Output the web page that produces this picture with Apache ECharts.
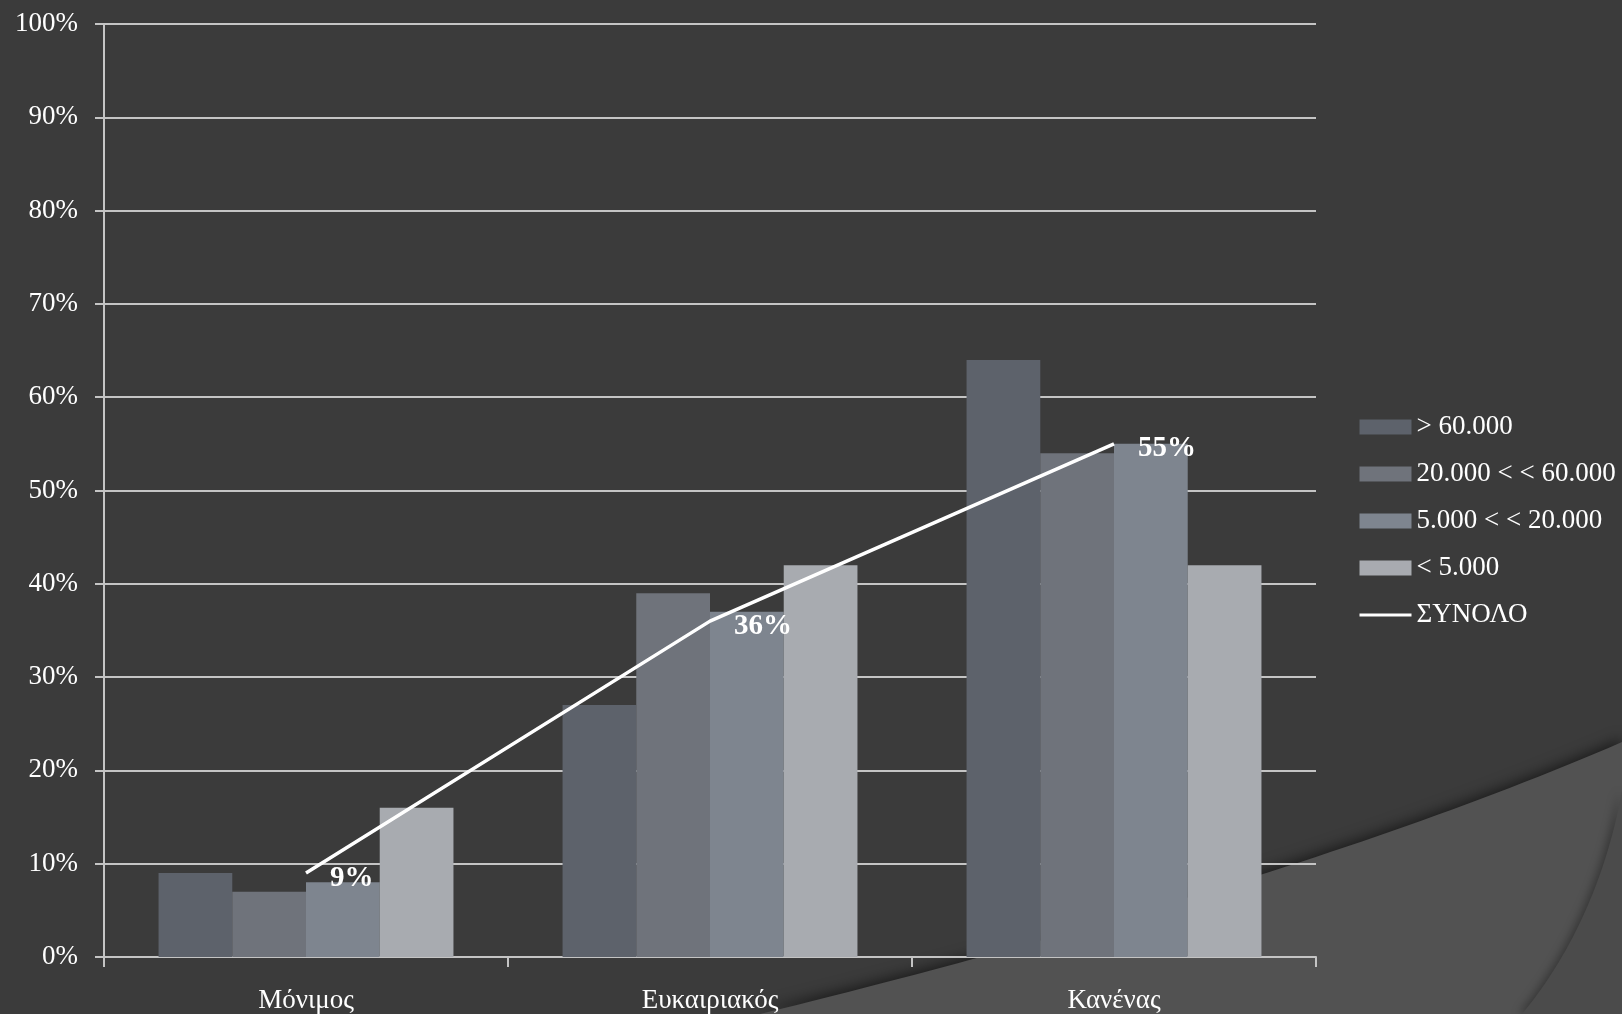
<!DOCTYPE html>
<html>
<head>
<meta charset="utf-8">
<script src="https://cdn.jsdelivr.net/npm/echarts@6/dist/echarts.min.js"></script>
<style>
html,body{margin:0;padding:0;background:#3b3b3b;}
#chart{width:1622px;height:1014px;}
</style>
</head>
<body>
<div id="chart"></div>
<script>
const categories = ['Μόνιμος', 'Ευκαιριακός', 'Κανένας'];
const seriesNames = ['> 60.000', '20.000 < < 60.000', '5.000 < < 20.000', '< 5.000', 'ΣΥΝΟΛΟ'];
const over60 = [9, 27, 64];
const from20to60 = [7, 39, 54];
const from5to20 = [8, 37, 55];
const under5 = [16, 42, 42];
const total = [9, 36, 55];
const yTicks = [0, 10, 20, 30, 40, 50, 60, 70, 80, 90, 100];

const FONT = '"Liberation Serif", "DejaVu Serif", serif';
const barColors = ['#5d626b', '#6f737b', '#7e858f', '#a8abb0'];
const gridColor = '#c4c4c4';

// decorative background curves (cubic bezier sampled into polygon points)
function bezierPoly(p0, p1, p2, p3, tail) {
  const pts = [];
  for (let i = 0; i <= 60; i++) {
    const t = i / 60, u = 1 - t;
    pts.push([
      u*u*u*p0[0] + 3*u*u*t*p1[0] + 3*u*t*t*p2[0] + t*t*t*p3[0],
      u*u*u*p0[1] + 3*u*u*t*p1[1] + 3*u*t*t*p2[1] + t*t*t*p3[1]
    ]);
  }
  return pts.concat(tail);
}
const bgShape1 = bezierPoly([760, 1014], [1000, 955], [1350, 860], [1622, 742], [[1622, 1014]]);
const bgShape2 = bezierPoly([1622, 790], [1608, 870], [1575, 950], [1522, 1014], [[1622, 1014]]);

const chart = echarts.init(document.getElementById('chart'), null, {renderer: 'canvas'});

function barSeries(name, data, color) {
  return {
    name: name, type: 'bar', data: data,
    barGap: '0%', barCategoryGap: '27%',
    itemStyle: {color: color},
    z: 2
  };
}

chart.setOption({
  backgroundColor: '#3b3b3b',
  animation: false,
  graphic: [
    {
      type: 'polygon', z: -10, silent: true,
      shape: {points: bgShape1},
      style: {fill: '#525252', shadowColor: 'rgba(0,0,0,0.55)', shadowBlur: 14, shadowOffsetY: -3}
    },
    {
      type: 'polygon', z: -9, silent: true,
      shape: {points: bgShape2},
      style: {fill: '#4b4b4b', shadowColor: 'rgba(0,0,0,0.35)', shadowBlur: 10, shadowOffsetX: -3}
    }
  ],
  grid: {left: 104, right: 306, top: 24, bottom: 56, containLabel: false},
  legend: {
    orient: 'vertical',
    left: 1358, top: 412,
    padding: 0,
    itemWidth: 52, itemHeight: 15,
    itemGap: 17,
    textStyle: {color: '#ffffff', fontFamily: FONT, fontSize: 27, lineHeight: 30},
    data: [
      {name: seriesNames[0], icon: 'rect'},
      {name: seriesNames[1], icon: 'rect'},
      {name: seriesNames[2], icon: 'rect'},
      {name: seriesNames[3], icon: 'rect'},
      {name: seriesNames[4], itemStyle: {opacity: 0}, lineStyle: {color: '#ffffff', width: 3}}
    ]
  },
  xAxis: {
    type: 'category',
    data: categories,
    axisLine: {show: true, lineStyle: {color: gridColor, width: 2}},
    axisTick: {show: true, alignWithLabel: false, length: 10, lineStyle: {color: gridColor, width: 2}},
    axisLabel: {color: '#ffffff', fontFamily: FONT, fontSize: 27, margin: 30},
    splitLine: {show: false}
  },
  yAxis: {
    type: 'value',
    min: yTicks[0], max: yTicks[yTicks.length - 1], interval: 10,
    axisLine: {show: true, lineStyle: {color: gridColor, width: 2}},
    axisTick: {show: true, length: 9, lineStyle: {color: gridColor, width: 2}},
    axisLabel: {color: '#ffffff', fontFamily: FONT, fontSize: 27, margin: 26, formatter: '{value}%'},
    splitLine: {show: true, lineStyle: {color: gridColor, width: 2}}
  },
  series: [
    barSeries(seriesNames[0], over60, barColors[0]),
    barSeries(seriesNames[1], from20to60, barColors[1]),
    barSeries(seriesNames[2], from5to20, barColors[2]),
    barSeries(seriesNames[3], under5, barColors[3]),
    {
      name: seriesNames[4], type: 'line', data: total,
      symbol: 'circle', showSymbol: false, z: 5,
      lineStyle: {color: '#ffffff', width: 3.5},
      itemStyle: {color: '#ffffff'}
    },
    {
      name: 'totalLabels', type: 'scatter', data: total,
      symbolSize: 0, z: 6, silent: true,
      itemStyle: {color: '#ffffff', opacity: 1},
      label: {
        show: true, position: 'right', distance: 24, offset: [0, 5],
        color: '#ffffff', fontFamily: FONT, fontSize: 29, fontWeight: 'bold',
        formatter: '{c}%'
      }
    }
  ]
});
</script>
</body>
</html>
